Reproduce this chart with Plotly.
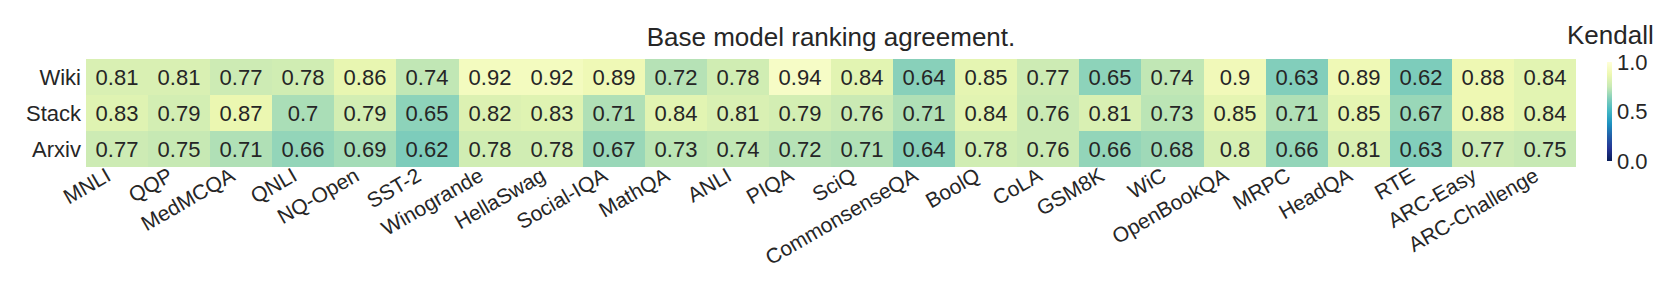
import plotly.graph_objects as go

tasks = ["MNLI", "QQP", "MedMCQA", "QNLI", "NQ-Open", "SST-2", "Winogrande", "HellaSwag",
         "Social-IQA", "MathQA", "ANLI", "PIQA", "SciQ", "CommonsenseQA", "BoolQ", "CoLA",
         "GSM8K", "WiC", "OpenBookQA", "MRPC", "HeadQA", "RTE", "ARC-Easy", "ARC-Challenge"]
sources = ["Wiki", "Stack", "Arxiv"]

wiki = [0.81, 0.81, 0.77, 0.78, 0.86, 0.74, 0.92, 0.92, 0.89, 0.72, 0.78, 0.94,
        0.84, 0.64, 0.85, 0.77, 0.65, 0.74, 0.9, 0.63, 0.89, 0.62, 0.88, 0.84]
stack = [0.83, 0.79, 0.87, 0.7, 0.79, 0.65, 0.82, 0.83, 0.71, 0.84, 0.81, 0.79,
         0.76, 0.71, 0.84, 0.76, 0.81, 0.73, 0.85, 0.71, 0.85, 0.67, 0.88, 0.84]
arxiv = [0.77, 0.75, 0.71, 0.66, 0.69, 0.62, 0.78, 0.78, 0.67, 0.73, 0.74, 0.72,
         0.71, 0.64, 0.78, 0.76, 0.66, 0.68, 0.8, 0.66, 0.81, 0.63, 0.77, 0.75]

cbar_ticks = [0.0, 0.5, 1.0]
cbar_ticklabels = ["0.0", "0.5", "1.0"]

z = [wiki, stack, arxiv]
text = [[f"{v:g}" for v in row] for row in z]

ylgnbu = ["#081d58", "#253494", "#225ea8", "#1d91c0", "#41b6c4",
          "#7fcdbb", "#c7e9b4", "#edf8b1", "#ffffd9"]
colorscale = [[i / (len(ylgnbu) - 1), c] for i, c in enumerate(ylgnbu)]

FONT = "Liberation Sans, Arial, Helvetica, sans-serif"
TXT = "#262626"

W, H = 1662, 290
ml, mr, mt, mb = 78, 94, 51, 131
plot_h = H - mt - mb
plot_w = W - ml - mr

fig = go.Figure(go.Heatmap(
    z=z, x=tasks, y=sources, text=text, texttemplate="%{text}",
    textfont=dict(family=FONT, size=22, color=TXT),
    colorscale=colorscale, zmin=0, zmax=1, xgap=0, ygap=0,
    colorbar=dict(
        thickness=5, thicknessmode="pixels",
        len=99 / plot_h, lenmode="fraction",
        x=(1599 - ml) / plot_w, xanchor="left", xpad=0,
        y=(159 - 103.5) / plot_h, yanchor="middle", ypad=0,
        outlinewidth=0,
        tickvals=cbar_ticks, ticktext=cbar_ticklabels,
        tickfont=dict(family=FONT, size=22, color=TXT),
        ticks="",
    ),
))

fig.update_layout(
    width=W, height=H,
    margin=dict(l=ml, r=mr, t=mt, b=mb, pad=0, autoexpand=False),
    paper_bgcolor="white", plot_bgcolor="white",
    font=dict(family=FONT, color=TXT),
    title=dict(text="Base model ranking agreement.", x=0.5, xref="paper",
               y=1 - 29 / H, yanchor="middle",
               font=dict(family=FONT, size=26, color=TXT)),
    xaxis=dict(tickangle=-30, tickfont=dict(family=FONT, size=21, color=TXT),
               showgrid=False, zeroline=False, showline=False, ticks="",
               ticklabelstandoff=-8, ticklabelshift=-10, automargin=False),
    yaxis=dict(autorange="reversed", tickfont=dict(family=FONT, size=22, color=TXT),
               showgrid=False, zeroline=False, showline=False, ticks="",
               ticklabelstandoff=4, automargin=False),
    annotations=[dict(text="Kendall", xref="paper", yref="paper",
                      x=(1602 - ml) / plot_w, y=(159 - 27) / plot_h,
                      xanchor="center", yanchor="middle", showarrow=False,
                      font=dict(family=FONT, size=26, color=TXT))],
)

fig.write_html("out.html")
